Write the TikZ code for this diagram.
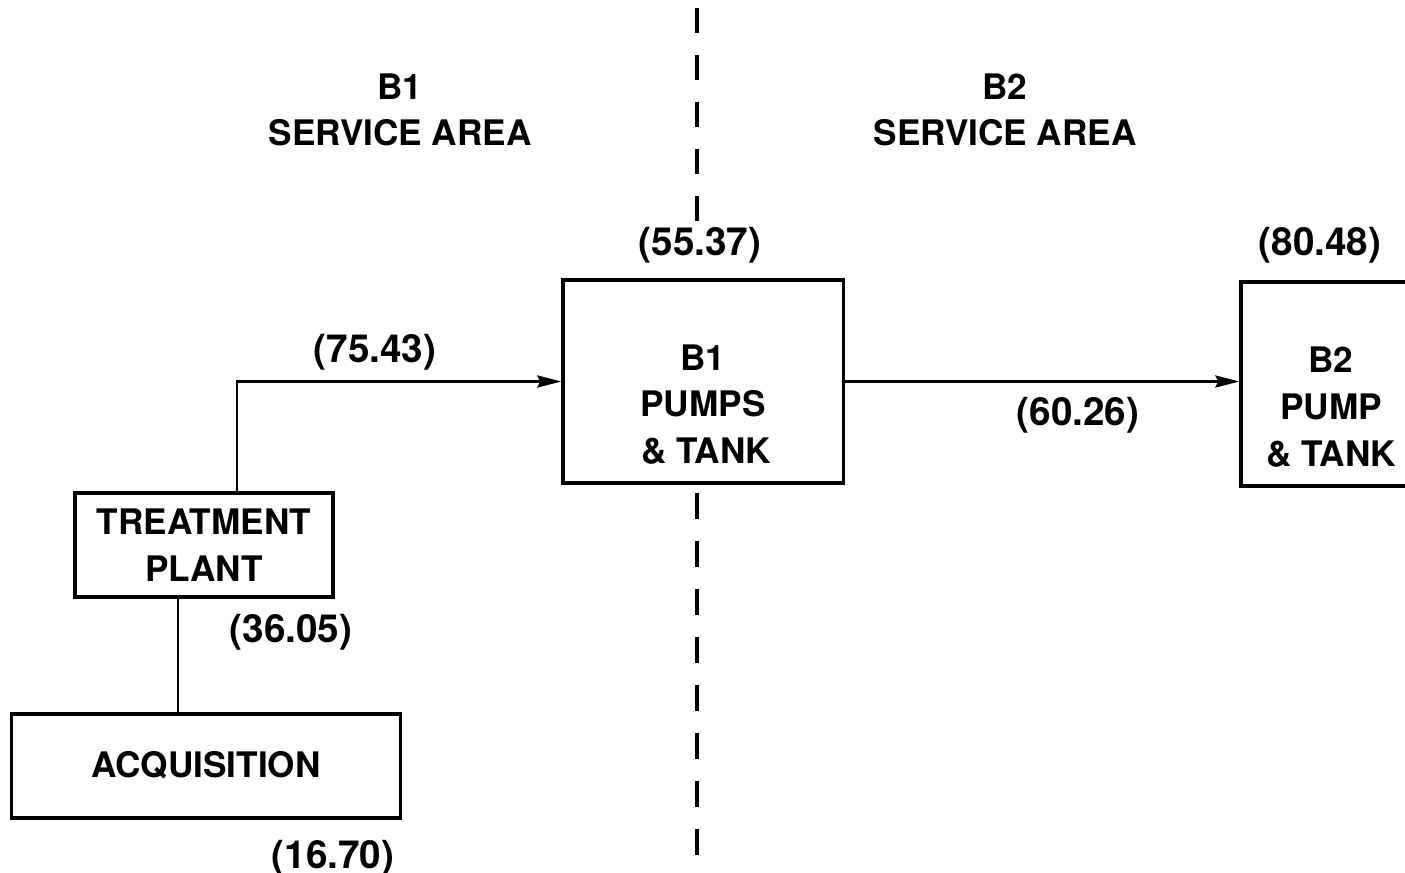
\documentclass[tikz,border=0pt]{standalone}
\usepackage{fontspec}
\setsansfont{TeX Gyre Heros}
\usepackage{tikz}
\usetikzlibrary{arrows.meta}
\tikzset{
  wtr box/.style={draw,line width=.9pt,align=center,inner sep=0pt},
  wtr flow/.style={line width=.8pt,-{Stealth[length=2.4mm,width=1.2mm,inset=.3mm]}},
  wtr link/.style={line width=.8pt},
  wtr divide/.style={line width=.9pt,dash pattern=on 2.5mm off 2.2mm},
  wtr label/.style={align=center,inner sep=0pt},
  wtr cost/.style={wtr label,font=\sffamily\bfseries\fontsize{11}{13.3}\selectfont}
}

\begin{document}
\begin{tikzpicture}[x=0.01cm,y=-0.01cm,font=\sffamily\bfseries\fontsize{10}{13.3}\selectfont]
  \useasboundingbox (0,0) rectangle (1405,873);
  % service areas
  \node[wtr label] (areaone) at (400,110) {B1\\SERVICE AREA};
  \node[wtr label] (areatwo) at (1005,110) {B2\\SERVICE AREA};
  % boundary between the areas
  \coordinate (divtop) at (697,8);
  \coordinate (divmid) at (697,225);
  \coordinate (divlow) at (697,493);
  \coordinate (divend) at (697,858);
  \draw[wtr divide] (divtop) -- (divmid);
  \draw[wtr divide,dash pattern=on 2.6mm off 2.2mm] (divlow) -- (divend);
  % facilities
  \node[wtr box,minimum width=3.88cm,minimum height=1.04cm] (acq) at (206,766) {\raisebox{.4mm}{ACQUISITION}};
  \node[wtr box,minimum width=2.58cm,minimum height=1.04cm] (plant) at (204,545) {TREATMENT\\PLANT};
  \node[wtr box,minimum width=2.8cm,minimum height=2.03cm] (bpumps) at (703,381.5) {};
  \node[wtr label] (bpumpstext) at ([yshift=-0.23cm]bpumps.center) {B1\\PUMPS\\\,\& TANK};
  \node[wtr box,minimum width=1.8cm,minimum height=2.04cm] (btwo) at (1331,384) {};
  \node[wtr label] (btwotext) at ([yshift=-0.23cm]btwo.center) {B2\\PUMP\\\& TANK};
  % costs
  \node[wtr cost] (cacq) at (333,858) {(16.70)};
  \node[wtr cost] (cplant) at (291,632) {(36.05)};
  \node[wtr cost] (cline) at (375,352) {(75.43)};
  \node[wtr cost] (cbpumps) at (700,245) {(55.37)};
  \node[wtr cost] (ctrans) at (1078,415) {(60.26)};
  \node[wtr cost] (cbtwo) at (1320,245) {(80.48)};
  % connections
  \draw[wtr link] ([xshift=-0.26cm]plant.south) -- ([xshift=-0.26cm]plant.south |- acq.north);
  \draw[wtr flow] ([xshift=0.33cm]plant.north) |- (bpumps.west);
  \draw[wtr flow] (bpumps.east) -- (bpumps.east -| btwo.west);
\end{tikzpicture}
\end{document}
